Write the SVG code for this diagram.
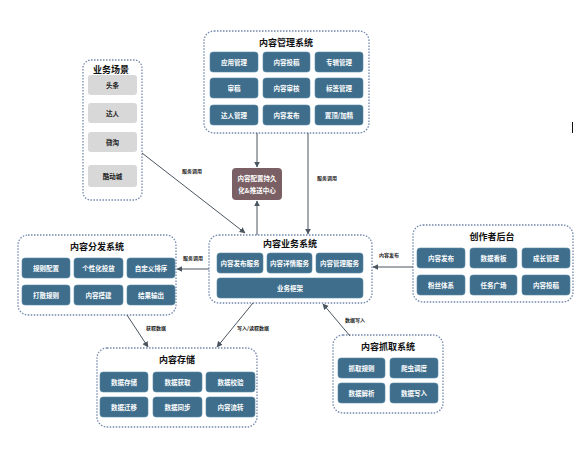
<svg xmlns="http://www.w3.org/2000/svg" width="578" height="455" viewBox="0 0 578 455">
<defs>
<marker id="ah" viewBox="0 0 10 10" refX="9" refY="5" markerWidth="6" markerHeight="6" orient="auto" markerUnits="userSpaceOnUse">
<path d="M0,0 L10,5 L0,10 z" fill="#4a5560"/>
</marker>
</defs>
<style>
.grp{fill:#ffffff;stroke:#7287ad;stroke-width:1.3;stroke-dasharray:1.5 1.5}
.ttl{font-family:"Noto Sans CJK SC","Noto Sans",sans-serif;font-weight:bold;font-size:9px;fill:#111;text-anchor:middle;dominant-baseline:central}
.btn{fill:#3e6e8c;stroke:#5d8aa5;stroke-width:0.6}
.bt{font-family:"Noto Sans CJK SC","Noto Sans",sans-serif;font-weight:bold;font-size:6.5px;fill:#ffffff;text-anchor:middle;dominant-baseline:central}
.gbtn{fill:#d8d8d8}
.gt{font-family:"Noto Sans CJK SC","Noto Sans",sans-serif;font-weight:bold;font-size:6.5px;fill:#222;text-anchor:middle;dominant-baseline:central}
.ln{stroke:#4a5560;stroke-width:1;fill:none;marker-end:url(#ah)}
.lb{font-family:"Noto Sans CJK SC","Noto Sans",sans-serif;font-weight:bold;font-size:5px;fill:#222;text-anchor:middle;dominant-baseline:central}
</style>
<rect width="578" height="455" fill="#ffffff"/>

<g id="mgmt">
<rect class="grp" x="204" y="31" width="165" height="102" rx="10"/>
<text class="ttl" x="286" y="42">内容管理系统</text>
<rect class="btn" x="210" y="52" width="48" height="20" rx="3"/><text class="bt" x="234" y="62">应用管理</text>
<rect class="btn" x="263" y="52" width="47" height="20" rx="3"/><text class="bt" x="286.5" y="62">内容投稿</text>
<rect class="btn" x="315" y="52" width="48" height="20" rx="3"/><text class="bt" x="339" y="62">专辑管理</text>
<rect class="btn" x="210" y="78" width="48" height="20" rx="3"/><text class="bt" x="234" y="88">审稿</text>
<rect class="btn" x="263" y="78" width="47" height="20" rx="3"/><text class="bt" x="286.5" y="88">内容审核</text>
<rect class="btn" x="315" y="78" width="48" height="20" rx="3"/><text class="bt" x="339" y="88">标签管理</text>
<rect class="btn" x="210" y="105" width="48" height="20" rx="3"/><text class="bt" x="234" y="115">达人管理</text>
<rect class="btn" x="263" y="105" width="47" height="20" rx="3"/><text class="bt" x="286.5" y="115">内容发布</text>
<rect class="btn" x="315" y="105" width="48" height="20" rx="3"/><text class="bt" x="339" y="115">置顶/加精</text>
</g>

<g id="scene">
<rect class="grp" x="83" y="60" width="59" height="140" rx="8"/>
<text class="ttl" x="111" y="69">业务场景</text>
<rect class="gbtn" x="88" y="75" width="49" height="20" rx="3"/><text class="gt" x="112.5" y="85">头条</text>
<rect class="gbtn" x="88" y="103" width="49" height="20" rx="3"/><text class="gt" x="112.5" y="113">达人</text>
<rect class="gbtn" x="88" y="132" width="49" height="20" rx="3"/><text class="gt" x="112.5" y="142">微淘</text>
<rect class="gbtn" x="88" y="165" width="49" height="22" rx="3"/><text class="gt" x="112.5" y="176">酷动城</text>
</g>

<g id="config">
<rect x="232" y="168" width="50" height="32" rx="4" fill="#7a5f64"/>
<text class="bt" x="257" y="178" font-size="7px" fill="#f2ecec">内容配置持久</text>
<text class="bt" x="257" y="190" font-size="7px" fill="#f2ecec">化&amp;推送中心</text>
</g>

<g id="dist">
<rect class="grp" x="18" y="235" width="158" height="80" rx="10"/>
<text class="ttl" x="97" y="246">内容分发系统</text>
<rect class="btn" x="22" y="258" width="48" height="20" rx="3"/><text class="bt" x="46" y="268">规则配置</text>
<rect class="btn" x="74" y="258" width="49" height="20" rx="3"/><text class="bt" x="98.5" y="268">个性化投放</text>
<rect class="btn" x="127" y="258" width="48" height="20" rx="3"/><text class="bt" x="151" y="268">自定义排序</text>
<rect class="btn" x="22" y="285" width="48" height="20" rx="3"/><text class="bt" x="46" y="295">打散规则</text>
<rect class="btn" x="74" y="285" width="49" height="20" rx="3"/><text class="bt" x="98.5" y="295">内容搭建</text>
<rect class="btn" x="127" y="285" width="48" height="20" rx="3"/><text class="bt" x="151" y="295">结果输出</text>
</g>

<g id="biz">
<rect class="grp" x="209" y="235" width="163" height="68" rx="10"/>
<text class="ttl" x="290" y="243">内容业务系统</text>
<rect class="btn" x="217" y="253" width="46" height="20" rx="3"/><text class="bt" x="240" y="263">内容发布服务</text>
<rect class="btn" x="267" y="253" width="45" height="20" rx="3"/><text class="bt" x="289.5" y="263">内容详情服务</text>
<rect class="btn" x="316" y="253" width="47" height="20" rx="3"/><text class="bt" x="339.5" y="263">内容管理服务</text>
<rect class="btn" x="217" y="278" width="146" height="20" rx="3"/><text class="bt" x="290" y="288">业务框架</text>
</g>

<g id="creator">
<rect class="grp" x="413" y="225" width="160" height="77" rx="10"/>
<text class="ttl" x="492" y="236">创作者后台</text>
<rect class="btn" x="417" y="248" width="48" height="20" rx="3"/><text class="bt" x="441" y="258">内容发布</text>
<rect class="btn" x="470" y="248" width="47" height="20" rx="3"/><text class="bt" x="493.5" y="258">数据看板</text>
<rect class="btn" x="522" y="248" width="48" height="20" rx="3"/><text class="bt" x="546" y="258">成长管理</text>
<rect class="btn" x="417" y="275" width="48" height="20" rx="3"/><text class="bt" x="441" y="285">粉丝体系</text>
<rect class="btn" x="470" y="275" width="47" height="20" rx="3"/><text class="bt" x="493.5" y="285">任务广场</text>
<rect class="btn" x="522" y="275" width="48" height="20" rx="3"/><text class="bt" x="546" y="285">内容投稿</text>
</g>

<g id="storage">
<rect class="grp" x="97" y="348" width="160" height="79" rx="10"/>
<text class="ttl" x="177" y="359">内容存储</text>
<rect class="btn" x="100" y="372" width="48" height="20" rx="3"/><text class="bt" x="124" y="382">数据存储</text>
<rect class="btn" x="153" y="372" width="49" height="20" rx="3"/><text class="bt" x="177.5" y="382">数据获取</text>
<rect class="btn" x="206" y="372" width="49" height="20" rx="3"/><text class="bt" x="230.5" y="382">数据校验</text>
<rect class="btn" x="100" y="397" width="48" height="20" rx="3"/><text class="bt" x="124" y="407">数据迁移</text>
<rect class="btn" x="153" y="397" width="49" height="20" rx="3"/><text class="bt" x="177.5" y="407">数据同步</text>
<rect class="btn" x="206" y="397" width="49" height="20" rx="3"/><text class="bt" x="230.5" y="407">内容流转</text>
</g>

<g id="capture">
<rect class="grp" x="333" y="335" width="110" height="78" rx="10"/>
<text class="ttl" x="388" y="346">内容抓取系统</text>
<rect class="btn" x="338" y="358" width="47" height="20" rx="3"/><text class="bt" x="361.5" y="368">抓取规则</text>
<rect class="btn" x="390" y="358" width="48" height="20" rx="3"/><text class="bt" x="414" y="368">爬虫调度</text>
<rect class="btn" x="338" y="383" width="47" height="20" rx="3"/><text class="bt" x="361.5" y="393">数据解析</text>
<rect class="btn" x="390" y="383" width="48" height="20" rx="3"/><text class="bt" x="414" y="393">数据写入</text>
</g>

<g id="connectors">
<line class="ln" x1="257" y1="133" x2="257" y2="167"/>
<line class="ln" x1="257" y1="235" x2="257" y2="201"/>
<line class="ln" x1="308" y1="133" x2="308" y2="234"/>
<text class="lb" x="327" y="177">服务调用</text>
<line class="ln" x1="142" y1="153" x2="245" y2="233"/>
<text class="lb" x="192" y="170">服务调用</text>
<line class="ln" x1="209" y1="269" x2="177" y2="269"/>
<text class="lb" x="193" y="257">服务调用</text>
<line class="ln" x1="413" y1="267" x2="373" y2="267"/>
<text class="lb" x="389" y="254">内容发布</text>
<line class="ln" x1="127" y1="315" x2="148" y2="347"/>
<text class="lb" x="156" y="327">获取数据</text>
<line class="ln" x1="253" y1="303" x2="217" y2="347"/>
<text class="lb" x="253" y="327">写入/读取数据</text>
<line class="ln" x1="350" y1="336" x2="323" y2="304"/>
<text class="lb" x="355" y="319">数据写入</text>
</g>
<line x1="572.5" y1="122" x2="572.5" y2="133" stroke="#111" stroke-width="1"/>
</svg>
